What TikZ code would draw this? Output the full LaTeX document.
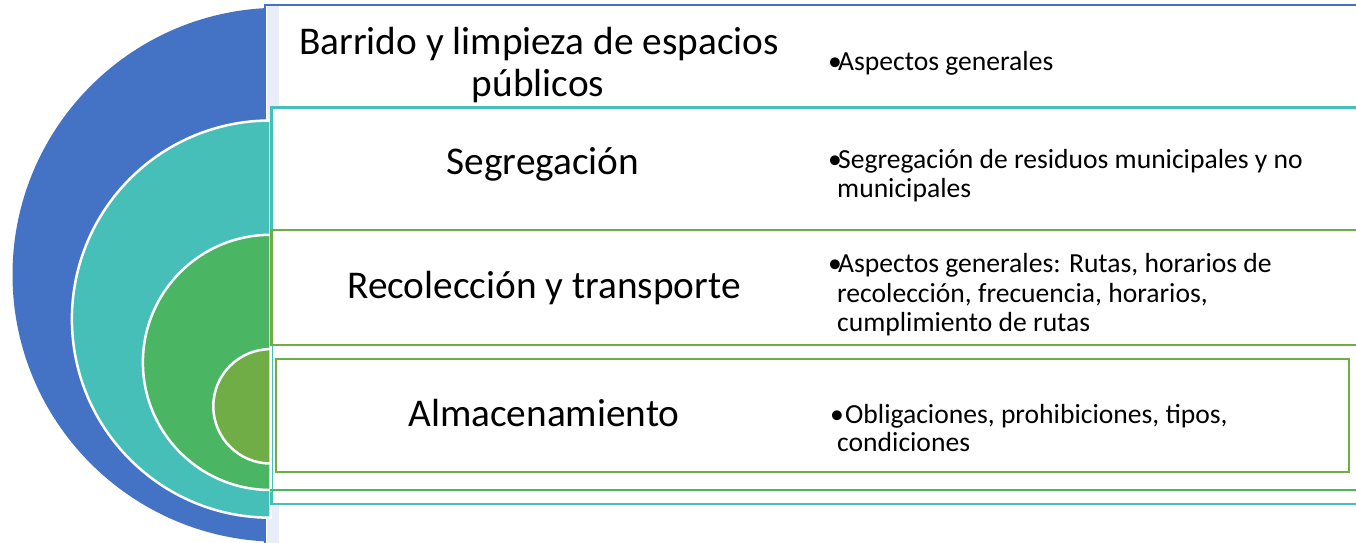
\documentclass[tikz,border=0pt]{standalone}
\usepackage{fontspec}
\setmainfont{Carlito}
\definecolor{cblue}{HTML}{4472C4}
\definecolor{cteal}{HTML}{45BFB7}
\definecolor{cgreen}{HTML}{4AB563}
\definecolor{colive}{HTML}{70AD47}
\definecolor{cstripe}{HTML}{E9EDF7}
\begin{document}
\begin{tikzpicture}[x=1bp,y=-1bp,
  big/.style={font=\fontsize{39.45}{42}\selectfont, inner sep=0pt, anchor=base},
  small/.style={font=\fontsize{27.7}{30}\selectfont, inner sep=0pt, anchor=base west},
  half/.style={draw=white, line width=2.5bp},
  edge/.style={line width=2.2bp}]
\useasboundingbox (0,0) rectangle (1356,543);
\fill[white] (0,0) rectangle (1356,543);
% level 1 (blue)
\fill[cblue] (279.5,274.75) circle[radius=267];
\draw[edge, draw=cblue, fill=white] (265,5) rectangle (1370,560);
\fill[cstripe] (267,6.1) rectangle (279,560);
% level 2 (teal)
\draw[half, fill=cteal] (270.5,517.7) arc[start angle=90, end angle=270, radius=198.6] -- cycle;
\draw[edge, draw=cteal, fill=white] (271.5,107.5) rectangle (1370,504);
% level 3 (green)
\draw[half, fill=cgreen] (270.5,490) arc[start angle=90, end angle=270, radius=127.6] -- cycle;
\fill[white] (272.6,231) rectangle (1370,489);
\draw[edge, draw=cgreen] (270,490) -- (1370,490);
\draw[edge, draw=colive] (1370,230) -- (271.5,230) -- (271.5,345) -- (1370,345);
% level 4 (olive)
\draw[half, fill=colive] (270.5,463.5) arc[start angle=90, end angle=270, radius=57.2] -- cycle;
\draw[edge, draw=colive, fill=white] (276,359) rectangle (1349,472);
% titles
\node[big] (t1a) at (539,54.5) {Barrido y limpieza de espacios};
\node[big] (t1b) at (538,97) {públicos};
\node[big] (t2) at (543,175) {Segregación};
\node[big] (t3) at (544,298.3) {Recolección y transporte};
\node[big] (t4) at (544,426.7) {Almacenamiento};
% descriptions
\node[small] (d1) at (828,70.7) {\makebox[10bp][l]{•}Aspectos generales};
\node[small] (d2a) at (828,169) {\makebox[10bp][l]{•}Segregación de residuos municipales y no};
\node[small] (d2b) at (837,198) {municipales};
\node[small] (d3a) at (828,272.7) {\makebox[10bp][l]{•}Aspectos generales: Rutas, horarios de};
\node[small] (d3b) at (837,302.7) {recolección, frecuencia, horarios,};
\node[small] (d3c) at (837,331.7) {cumplimiento de rutas};
\node[small] (d4a) at (830,423) {\makebox[15bp][l]{•}Obligaciones, prohibiciones, tipos,};
\node[small] (d4b) at (837,451.7) {condiciones};
\end{tikzpicture}
\end{document}
